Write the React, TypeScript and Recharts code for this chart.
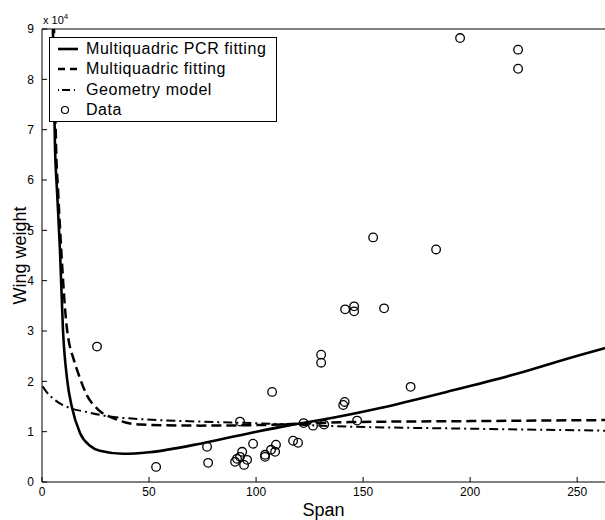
import React from 'react';
import { ComposedChart, Line, Scatter, XAxis, YAxis } from 'recharts';

const pcrX = [4.5, 5.1, 6.1, 7, 8.4, 9.8, 11.7, 13.9, 17.8, 22.4, 27, 38, 50, 76, 97, 116, 130, 158, 189, 220, 251, 263];
const pcrY = [105000, 90000, 66000, 58000, 46000, 30200, 20500, 15000, 9700, 7200, 6200, 5600, 5900, 7800, 9700, 11300, 12300, 14700, 17900, 21300, 25200, 26600];

const mqX = [4.8, 5.6, 6.6, 7.5, 9, 11.5, 12.3, 14.7, 17, 21, 26, 35, 46, 74, 100, 144, 200, 263];
const mqY = [100000, 90000, 66000, 58000, 46000, 31000, 28500, 24500, 21500, 17200, 14500, 12400, 11400, 11200, 11300, 11900, 12100, 12300];

const geoX = [0.3, 1.4, 6, 13, 21, 30, 45.8, 74, 98.6, 144, 198.6, 263];
const geoY = [19000, 18300, 16300, 14700, 13900, 13100, 12500, 12000, 11700, 11000, 10600, 10200];

const dataX = [25.7, 53.3, 77.1, 77.6, 92.5, 90.2, 91.1, 92.5, 93.5, 94.4, 95.8, 98.6, 104.2, 104.2, 107.0, 107.5, 108.9, 109.3, 117.3, 119.6, 122.2, 126.6, 130.4, 130.4, 131.8, 140.7, 141.4, 141.6, 145.8, 145.8, 147.2, 154.7, 159.8, 172.2, 184.1, 195.3, 222.4, 222.4];
const dataY = [26900, 3000, 7000, 3800, 12000, 4000, 4600, 5000, 6000, 3400, 4400, 7600, 5400, 5000, 6400, 17900, 6000, 7400, 8200, 7800, 11700, 11200, 25300, 23700, 11400, 15300, 15900, 34300, 34900, 33900, 12200, 48600, 34500, 18900, 46200, 88200, 85900, 82100];

const xTicks = [0, 50, 100, 150, 200, 250];
const yTicks = [0, 10000, 20000, 30000, 40000, 50000, 60000, 70000, 80000, 90000];

const legendNames = ['Multiquadric PCR fitting', 'Multiquadric fitting', 'Geometry model', 'Data'];

const zip = (xs: number[], ys: number[]) => xs.map((x, i) => ({ x, y: ys[i] }));
const pcrData = zip(pcrX, pcrY);
const mqData = zip(mqX, mqY);
const geoData = zip(geoX, geoY);
const pointData = zip(dataX, dataY);

const FONT = '"Liberation Sans", Arial, Helvetica, sans-serif';

const CircleShape = (props: any) => (
  <circle cx={props.cx} cy={props.cy} r={4.3} fill="none" stroke="#000" strokeWidth={1.3} />
);

const LegendBox = () => {
  const icons = [
    <line x1={2} y1={10} x2={22} y2={10} stroke="#000" strokeWidth={2.6} />,
    <line x1={2} y1={10} x2={22} y2={10} stroke="#000" strokeWidth={2.6} strokeDasharray="7 5" />,
    <line x1={2} y1={10} x2={22} y2={10} stroke="#000" strokeWidth={2} strokeDasharray="1 3 8 4" />,
    <circle cx={9} cy={10} r={3.5} fill="none" stroke="#000" strokeWidth={1.2} />,
  ];
  return (
    <div
      style={{
        position: 'absolute',
        left: 49,
        top: 37,
        background: '#fff',
        border: '1.3px solid #000',
        width: 228,
        height: 85,
        boxSizing: 'border-box',
        paddingTop: 1,
        fontFamily: FONT,
      }}
    >
      {legendNames.map((n, i) => (
        <div key={n} style={{ display: 'flex', alignItems: 'center', height: 20.3 }}>
          <svg width={30} height={20} style={{ marginLeft: 6 }}>
            {icons[i]}
          </svg>
          <span style={{ fontSize: 16, letterSpacing: 0.55, color: '#000', lineHeight: '20px' }}>{n}</span>
        </div>
      ))}
    </div>
  );
};

export default function App() {
  return (
    <div style={{ position: 'absolute', left: 0, top: 0, width: 605, height: 520, background: '#fff' }}>
      <ComposedChart width={605} height={520} margin={{ top: 28, right: 0, left: 12, bottom: 0 }}>
        <XAxis
          type="number"
          dataKey="x"
          domain={[0, 263]}
          allowDataOverflow
          ticks={xTicks}
          tickSize={-5}
          tickMargin={10}
          height={38}
          stroke="#000"
          tick={{ fill: '#000', fontSize: 12, fontFamily: FONT }}
          label={(p: any) => {
            const vb = p.viewBox;
            return (
              <text x={vb.x + vb.width / 2} y={vb.y + 34} textAnchor="middle" fontSize={18} fontFamily={FONT} fill="#000">
                Span
              </text>
            );
          }}
        />
        <XAxis
          xAxisId="top"
          orientation="top"
          type="number"
          dataKey="x"
          domain={[0, 263]}
          allowDataOverflow
          ticks={xTicks}
          tickSize={-5}
          tick={false}
          height={1}
          stroke="#000"
        />
        <YAxis
          type="number"
          dataKey="y"
          domain={[0, 90000]}
          allowDataOverflow
          ticks={yTicks}
          tickSize={-5}
          tickMargin={13}
          width={30}
          stroke="#000"
          tickFormatter={(v: number) => String(v / 10000)}
          tick={{ fill: '#000', fontSize: 12, fontFamily: FONT }}
          label={(p: any) => {
            const vb = p.viewBox;
            const cx = 20;
            const cy = vb.y + vb.height / 2;
            return (
              <g>
                <text x={cx} y={cy} transform={`rotate(-90, ${cx}, ${cy})`} textAnchor="middle" dominantBaseline="central" fontSize={18} fontFamily={FONT} fill="#000">
                  Wing weight
                </text>
                <text x={43} y={vb.y - 5} fontSize={11} fontFamily={FONT} fill="#000">
                  x 10
                  <tspan dy={-5} fontSize={8}>4</tspan>
                </text>
              </g>
            );
          }}
        />
        <Line data={geoData} dataKey="y" type="monotone" stroke="#000" strokeWidth={2} strokeDasharray="9 4 2 4" dot={false} isAnimationActive={false} />
        <Line data={mqData} dataKey="y" type="monotone" stroke="#000" strokeWidth={2.5} strokeDasharray="10 5" dot={false} isAnimationActive={false} />
        <Line data={pcrData} dataKey="y" type="monotone" stroke="#000" strokeWidth={2.6} dot={false} isAnimationActive={false} />
        <Scatter data={pointData} dataKey="y" shape={CircleShape} isAnimationActive={false} />
      </ComposedChart>
      <LegendBox />
    </div>
  );
}
